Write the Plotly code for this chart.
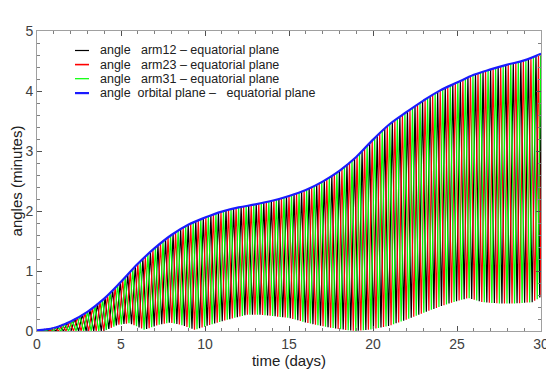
import numpy as np
import plotly.graph_objects as go

# upper envelope (orbital plane - equatorial plane), minutes, read at whole days
days = list(range(31))
orbital_plane = [0.01, 0.05, 0.16, 0.32, 0.54, 0.82, 1.12, 1.38, 1.60, 1.77, 1.89,
                 1.99, 2.06, 2.11, 2.17, 2.25, 2.35, 2.49, 2.67, 2.90, 3.19,
                 3.45, 3.65, 3.84, 4.01, 4.14, 4.27, 4.36, 4.44, 4.51, 4.62]

# lower edge reached by the arm curves
low_days = [0, 4, 4.8, 5.5, 6.4, 7.2, 7.9, 8.6, 9.4, 10.5, 11.5, 12.5, 13.3, 15,
            16, 17, 18, 19, 20, 21, 22, 23, 24, 25, 25.7, 26.5, 27.5, 28.5, 29.5, 30]
low_vals = [0, 0, 0.10, 0.13, 0.02, 0.10, 0.14, 0.10, 0.02, 0.12, 0.20, 0.27, 0.27,
            0.22, 0.14, 0.08, 0.03, 0.0, 0.03, 0.09, 0.19, 0.30, 0.41, 0.50, 0.55,
            0.48, 0.46, 0.46, 0.48, 0.57]

period = 0.45  # days between two maxima of one arm
arm_names = ["angle\u00a0\u00a0 arm12 \u2013 equatorial plane",
             "angle\u00a0\u00a0 arm23 \u2013 equatorial plane",
             "angle\u00a0\u00a0 arm31 \u2013 equatorial plane"]
arm_colors = ["#000000", "#ff0000", "#00ff00"]
arm_shift = [0.0, 1 / 3, 2 / 3]
orbit_name = "angle\u00a0 orbital plane \u2013\u00a0\u00a0 equatorial plane"
orbit_color = "#1a1aff"

fig = go.Figure()

for name, color, shift in zip(arm_names, arm_colors, arm_shift):
    # curve goes from the lower edge up to the orbital-plane angle and back
    t = np.arange(shift * period, 30.0, period / 2)
    t = np.concatenate([[0.0], t, [30.0]])
    top = np.interp(t, days, orbital_plane)
    bot = np.interp(t, low_days, low_vals)
    y = np.where(np.arange(len(t)) % 2 == 0, bot, top)
    fig.add_trace(go.Scatter(x=t, y=y, mode="lines", name=name,
                             line=dict(color=color, width=1.2)))

fig.add_trace(go.Scatter(x=days, y=orbital_plane, mode="lines", name=orbit_name,
                         line=dict(color=orbit_color, width=2.2, shape="spline")))

# gnuplot-style key: short line sample + text, tight rows
key_rows = [0.935, 0.888, 0.841, 0.793]
key_colors = arm_colors + [orbit_color]
key_widths = [1.2, 1.6, 1.2, 2.2]
for yk, name, color, w in zip(key_rows, arm_names + [orbit_name], key_colors, key_widths):
    fig.add_shape(type="line", xref="paper", yref="paper", x0=0.0754, x1=0.1032,
                  y0=yk, y1=yk, line=dict(color=color, width=w))
    fig.add_annotation(xref="paper", yref="paper", x=0.121, y=yk, text=name,
                       showarrow=False, xanchor="left", yanchor="middle",
                       font=dict(size=12.5, color="#202020"))

axis_common = dict(
    showline=True, linecolor="#a0a0a0", linewidth=1, mirror="allticks",
    ticks="inside", ticklen=5, tickcolor="#505050", showgrid=False, zeroline=False,
    tickfont=dict(size=14, color="#404040"), automargin=False,
)

fig.update_xaxes(range=[0, 30], dtick=5, title=dict(text="time (days)", standoff=2,
                 font=dict(size=15, color="#202020")),
                 minor=dict(ticks="inside", ticklen=3, dtick=1, tickcolor="#808080"),
                 **axis_common)
fig.update_yaxes(range=[0, 5], dtick=1, title=dict(text="angles (minutes)", standoff=12,
                 font=dict(size=15, color="#202020")),
                 minor=dict(ticks="inside", ticklen=3, dtick=0.2, tickcolor="#808080"),
                 **axis_common)

# page body adds 8px on left/top, so the figure is a bit smaller than the window
fig.update_layout(
    width=546, height=366,
    margin=dict(l=29, r=13, t=23, b=43),
    paper_bgcolor="white", plot_bgcolor="white",
    font=dict(family="Liberation Sans", size=12, color="#202020"),
    showlegend=False,
)

fig.write_html("out.html")
